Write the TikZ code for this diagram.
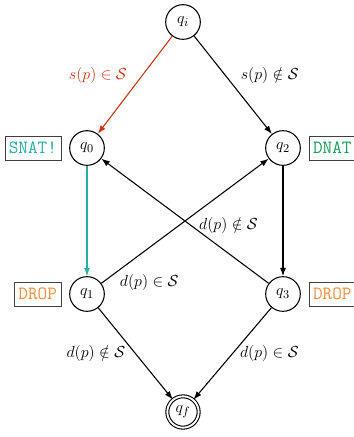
\documentclass[tikz,border=0pt]{standalone}
\usepackage{amsmath}
\usepackage{amssymb}
\usepackage{xcolor}
\usepackage{tikz}
\usetikzlibrary{positioning, arrows.meta}

\definecolor{corsnat}{RGB}{36,176,164}
\definecolor{cordnat}{RGB}{24,158,82}
\definecolor{cordrop}{RGB}{250,140,60}
\definecolor{corsrc}{RGB}{204,51,17}

\begin{document}
\begin{tikzpicture}[
  x=0.75pt, y=-0.75pt,
  font=\fontsize{13}{15}\selectfont,
  >={Latex[length=2.2mm, width=1.6mm]},
  estado/.style={draw, circle, line width=0.8pt, minimum size=26pt, inner sep=0pt},
  final/.style={estado, double, double distance=1.4pt, minimum size=23.5pt},
  acao/.style={draw=black!75, font=\fontsize{14}{16}\selectfont\ttfamily, inner sep=3pt, minimum height=18pt},
  seta/.style={->, line width=0.8pt}
]

\useasboundingbox (0,0) rectangle (354,437);

% ---------- Estados ----------
\node[estado] (qi) at (183,22)  {$q_i$};
\node[estado] (q0) at (87,148)  {$q_0$};
\node[estado] (q2) at (283,148) {$q_2$};
\node[estado] (q1) at (87,294)  {$q_1$};
\node[estado] (q3) at (283,294) {$q_3$};
\node[final]  (qf) at (183,412) {$q_f$};

% ---------- Ações (NAT / descarte) ----------
\node[acao, text=corsnat, left=6pt of q0]  (snat)  {SNAT!};
\node[acao, text=cordnat, right=6pt of q2] (dnat)  {DNAT};
\node[acao, text=cordrop, left=6pt of q1]  (drop1) {DROP};
\node[acao, text=cordrop, right=6pt of q3] (drop3) {DROP};

% ---------- Transições de origem ----------
\draw[seta, corsrc] (qi) -- node[pos=0.4, left=8pt, text=corsrc]{$s(p) \in \mathcal{S}$} (q0);
\draw[seta] (qi) -- node[pos=0.4, right=8pt]{$s(p) \notin \mathcal{S}$} (q2);
\draw[seta, corsnat] (q0) -- (q1);
\draw[seta] (q2) -- (q3);

% ---------- Transições cruzadas ----------
\draw[seta] (q1) -- node[pos=0.1, anchor=north west, inner sep=1pt, yshift=-1pt]{$d(p) \in \mathcal{S}$} (q2);
\draw[seta] (q3) -- node[pos=0.24, above=11pt]{$d(p) \notin \mathcal{S}$} (q0);

% ---------- Transições de destino ----------
\draw[seta] (q1) -- node[pos=0.5, left=4pt]{$d(p) \notin \mathcal{S}$} (qf);
\draw[seta] (q3) -- node[pos=0.5, right=2pt]{$d(p) \in \mathcal{S}$} (qf);

\end{tikzpicture}
\end{document}
